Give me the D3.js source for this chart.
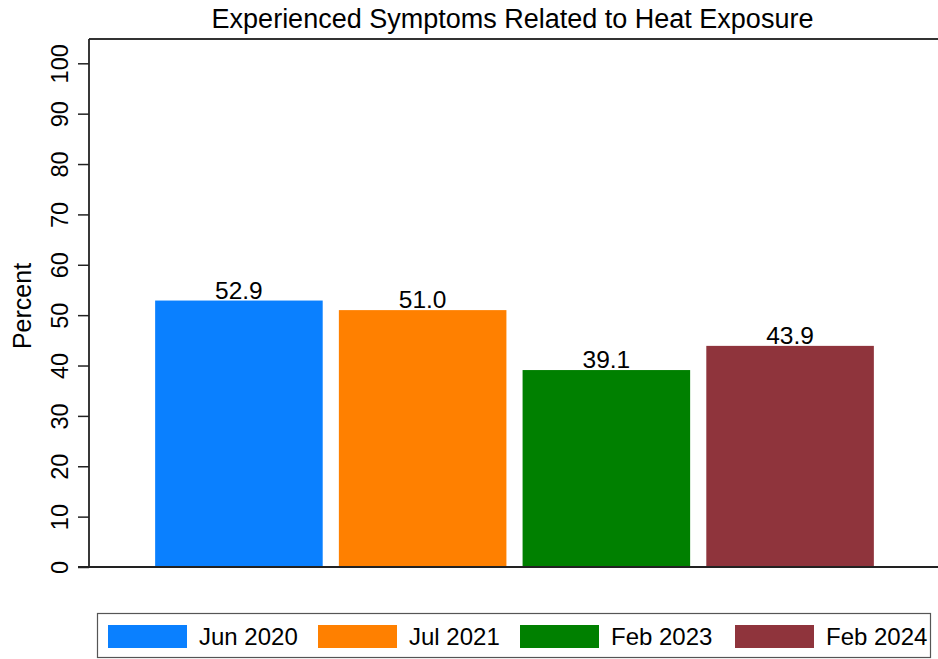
<!DOCTYPE html>
<html>
<head>
<meta charset="utf-8">
<script src="https://cdn.jsdelivr.net/npm/d3@7"></script>
<style>
  html, body { margin: 0; padding: 0; background: #fff; }
  svg { display: block; font-family: "Liberation Sans", Arial, Helvetica, sans-serif; }
</style>
</head>
<body>
<svg id="chart" width="938" height="659"></svg>
<script>
// Survey waves and share of respondents reporting heat-related symptoms
const waves = ["Jun 2020", "Jul 2021", "Feb 2023", "Feb 2024"];
const percents = [52.9, 51.0, 39.1, 43.9];
const waveColors = ["#0A80FF", "#FF8000", "#008000", "#8F343C"];
const yTicks = [0, 10, 20, 30, 40, 50, 60, 70, 80, 90, 100];
const titleText = "Experienced Symptoms Related to Heat Exposure";
const yLabel = "Percent";

const W = 938, H = 659;
const plot = { left: 89, right: 940, top: 39, bottom: 567 };

const svg = d3.select("#chart");

const x = d3.scaleBand()
  .domain(waves)
  .range([plot.left, plot.right])
  .paddingInner(0.088)
  .paddingOuter(0.36);

const y = d3.scaleLinear()
  .domain([0, 100])
  .range([plot.bottom, 63.3]);

// Title
svg.append("text")
  .attr("x", 512.5)
  .attr("y", 27.5)
  .attr("text-anchor", "middle")
  .attr("font-size", 27)
  .attr("fill", "#000")
  .text(titleText);

// Bars
svg.append("g").selectAll("rect")
  .data(waves)
  .join("rect")
  .attr("x", d => x(d))
  .attr("y", (d, i) => y(percents[i]))
  .attr("width", x.bandwidth())
  .attr("height", (d, i) => y(0) - y(percents[i]))
  .attr("fill", (d, i) => waveColors[i]);

// Value labels
svg.append("g").selectAll("text")
  .data(waves)
  .join("text")
  .attr("x", d => x(d) + x.bandwidth() / 2)
  .attr("y", (d, i) => y(percents[i]) - 2)
  .attr("text-anchor", "middle")
  .attr("font-size", 24.5)
  .attr("fill", "#000")
  .text((d, i) => percents[i].toFixed(1));

// Frame: top border line
svg.append("line")
  .attr("x1", plot.left).attr("x2", W)
  .attr("y1", plot.top).attr("y2", plot.top)
  .attr("stroke", "#333").attr("stroke-width", 1.8);

// Y axis
const yAxis = d3.axisLeft(y)
  .tickValues(yTicks)
  .tickSize(11)
  .tickPadding(0)
  .tickFormat(d3.format("d"));

const gy = svg.append("g")
  .attr("transform", `translate(${plot.left},0)`)
  .call(yAxis);
gy.select(".domain").remove();
gy.append("line")
  .attr("x1", 0).attr("x2", 0)
  .attr("y1", plot.top).attr("y2", plot.bottom)
  .attr("stroke", "#222").attr("stroke-width", 1.8);
gy.selectAll(".tick line").attr("stroke", "#222").attr("stroke-width", 1.5);
gy.selectAll(".tick text")
  .attr("font-size", 23.5)
  .attr("fill", "#000")
  .attr("font-family", "Liberation Sans, Arial, sans-serif")
  .attr("text-anchor", "middle")
  .attr("dy", 0)
  .attr("x", 0)
  .attr("transform", "translate(-21,0) rotate(-90)");

// Baseline along the bottom of the plot
svg.append("line")
  .attr("x1", plot.left - 11).attr("x2", W)
  .attr("y1", plot.bottom).attr("y2", plot.bottom)
  .attr("stroke", "#222").attr("stroke-width", 1.8);

// Y axis title
svg.append("text")
  .attr("transform", `translate(31,306) rotate(-90)`)
  .attr("text-anchor", "middle")
  .attr("font-size", 25)
  .attr("fill", "#000")
  .text(yLabel);

// Legend
const legend = svg.append("g");
legend.append("rect")
  .attr("x", 97.5).attr("y", 613.5)
  .attr("width", 833).attr("height", 44)
  .attr("fill", "#fff")
  .attr("stroke", "#555").attr("stroke-width", 1.2);

const swatchX = [108, 318, 520, 735];
const items = legend.selectAll("g.item")
  .data(waves)
  .join("g")
  .attr("class", "item")
  .attr("transform", (d, i) => `translate(${swatchX[i]},0)`);
items.append("rect")
  .attr("x", 0).attr("y", 625)
  .attr("width", 79).attr("height", 23)
  .attr("fill", (d, i) => waveColors[i]);
items.append("text")
  .attr("x", 91).attr("y", 645)
  .attr("font-size", 24)
  .attr("fill", "#000")
  .text(d => d);
</script>
</body>
</html>
